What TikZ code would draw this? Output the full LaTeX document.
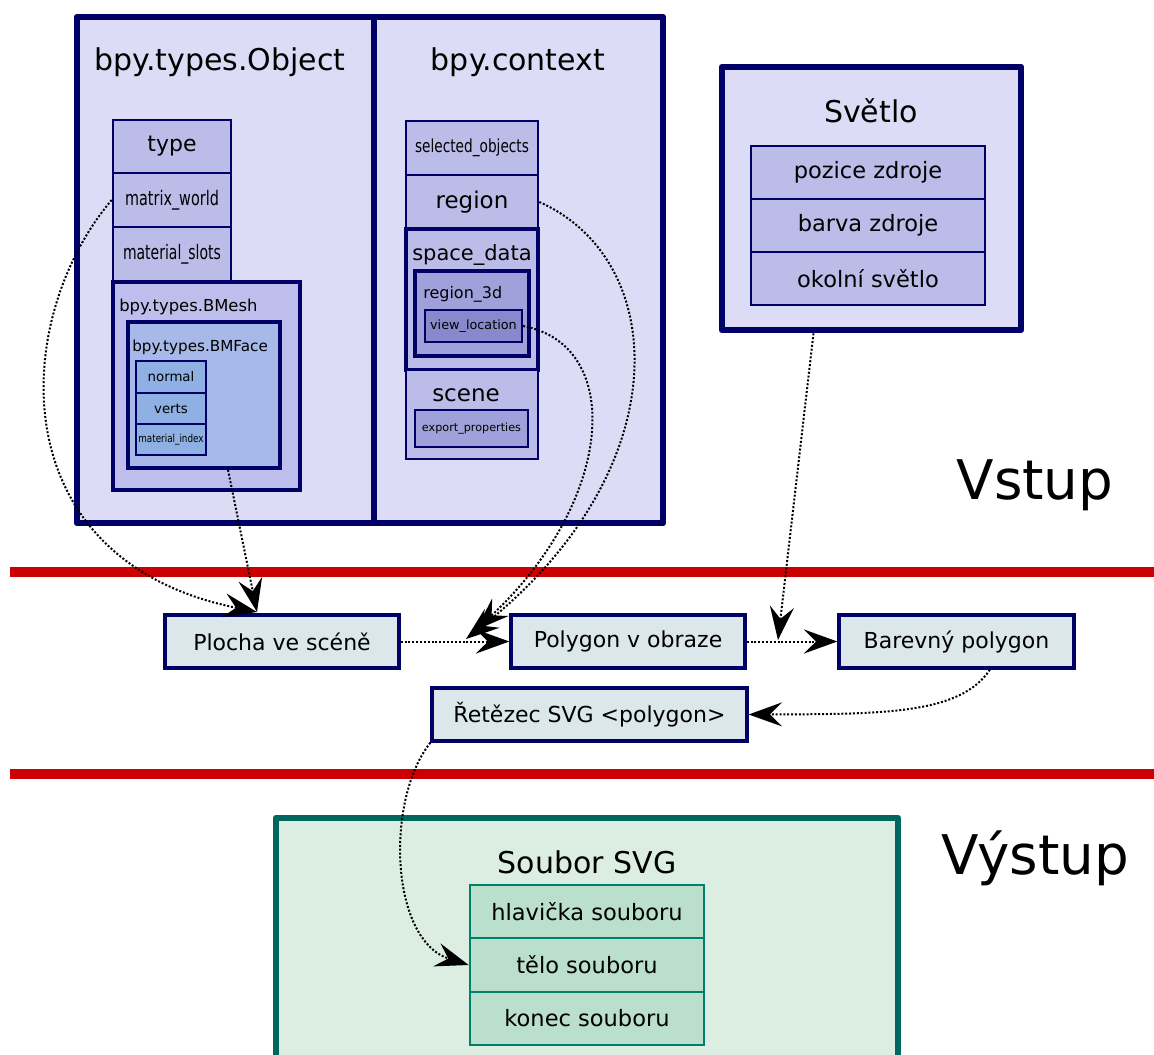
\documentclass[tikz,border=0pt]{standalone}
\usepackage{fontspec}
\setmainfont{DejaVu Sans}
\usepackage{graphicx}
\usetikzlibrary{arrows.meta,fit}

\definecolor{navy}{RGB}{0,0,102}
\definecolor{lav}{RGB}{220,220,247}
\definecolor{fieldc}{RGB}{188,188,233}
\definecolor{meshc}{RGB}{190,190,237}
\definecolor{facec}{RGB}{166,185,232}
\definecolor{attrc}{RGB}{142,176,226}
\definecolor{r3dc}{RGB}{160,160,218}
\definecolor{viewc}{RGB}{136,136,204}
\definecolor{flowc}{RGB}{219,231,235}
\definecolor{redline}{RGB}{204,0,0}
\definecolor{tealb}{RGB}{0,102,96}
\definecolor{filec}{RGB}{220,237,226}
\definecolor{rowc}{RGB}{187,223,205}
\definecolor{rowb}{RGB}{0,128,106}

\newcommand\fsz[1]{\fontsize{#1}{#1}\selectfont}
\newcommand\narrow[2]{\scalebox{#1}[1]{#2}}

\begin{document}
\begin{tikzpicture}[x=0.75pt,y=-0.75pt,
  area/.style={draw=navy, fill=lav, line width=5pt, inner sep=0pt, line join=round},
  field/.style={draw=navy, fill=fieldc, line width=2pt, inner sep=0pt},
  group/.style={draw=navy, line width=2.8pt, inner sep=0pt},
  attr/.style={draw=navy, fill=attrc, line width=1.5pt, inner sep=0pt},
  flow/.style={draw=navy, fill=flowc, line width=2.5pt, inner sep=0pt},
  row/.style={draw=rowb, fill=rowc, line width=2pt, inner sep=0pt},
  lbl/.style={inner sep=0pt},
  big/.style={lbl, font=\fsz{16.9pt}},
  title/.style={lbl, font=\fsz{22.5pt}},
  band/.style={draw=redline, line width=7.5pt},
  link/.style={line width=1.5pt, dash pattern=on 1.5pt off 1.4pt,
    -{Stealth[length=25pt,width=18pt,inset=9pt]}},
]
\useasboundingbox (0,0) rectangle (1154,1054);
\clip (0,0) rectangle (1154,1054);

% --- input areas ---
\node[area, fit={(77,17) (374,523)}] (obj) {};
\node[area, fit={(374,17) (663,523)}] (ctx) {};
\node[title] at (220,62) {bpy.types.Object};
\node[title] at (518,62) {bpy.context};

% bpy.types.Object fields
\node[field, fit={(113,120) (231,173)}] (type) {};
\node[lbl, font=\fsz{16.5pt}] at (type) {type};
\node[field, fit={(113,173) (231,227)}] (mw) {};
\node[lbl, font=\fsz{15pt}] at (mw) {\narrow{0.72}{matrix\_world}};
\node[field, fit={(113,227) (231,281)}] (ms) {};
\node[lbl, font=\fsz{15pt}] at (ms) {\narrow{0.70}{material\_slots}};
\node[group, fill=meshc, fit={(113,282) (300,490)}] (bmesh) {};
\node[lbl, anchor=west, font=\fsz{12.3pt}] at (119,307) {bpy.types.BMesh};
\node[group, fill=facec, fit={(128,322) (280,468)}] (bmface) {};
\node[lbl, anchor=west, font=\fsz{11.4pt}] at (132,347) {bpy.types.BMFace};
\node[attr, fit={(136,361) (206,393)}] (normal) {};
\node[lbl, font=\fsz{10pt}] at (normal) {normal};
\node[attr, fit={(136,393) (206,424)}] (verts) {};
\node[lbl, font=\fsz{10pt}] at (verts) {verts};
\node[attr, fit={(136,424) (206,455)}] (mi) {};
\node[lbl, font=\fsz{8.25pt}] at (mi) {\narrow{0.8}{material\_index}};

% bpy.context fields
\node[field, fit={(406,121) (538,175)}] (sel) {};
\node[lbl, font=\fsz{13.5pt}] at (sel) {\narrow{0.76}{selected\_objects}};
\node[field, fit={(406,175) (538,229)}] (region) {};
\node[lbl, font=\fsz{17.25pt}] at (region) {region};
\node[group, fill=fieldc, fit={(406,229) (538,370)}] (space) {};
\node[lbl, font=\fsz{15.75pt}] at (472,255) {space\_data};
\node[group, fill=r3dc, fit={(415,271) (529,356)}] (r3d) {};
\node[lbl, anchor=west, font=\fsz{12pt}] at (423,294) {region\_3d};
\node[attr, fill=viewc, fit={(425,310) (522,342)}] (view) {};
\node[lbl, font=\fsz{9.6pt}] at (view) {view\_location};
\node[field, fit={(406,370) (538,459)}] (scene) {};
\node[lbl, font=\fsz{17.25pt}] at (466,395) {scene};
\node[attr, fill=r3dc, fit={(415,410) (528,447)}] (export) {};
\node[lbl, font=\fsz{8.4pt}] at (export) {export\_properties};

% light source
\node[area, fit={(722,67) (1021,330)}] (light) {};
\node[title] at (871,111) {Světlo};
\node[field, fit={(751,146) (985,199)}] (pos) {};
\node[big] at (pos) {pozice zdroje};
\node[field, fit={(751,199) (985,252)}] (col) {};
\node[big] at (col) {barva zdroje};
\node[field, fit={(751,252) (985,305)}] (amb) {};
\node[big] at (amb) {okolní světlo};

% section separators and labels
\draw[band] (10,572) -- (1154,572);
\draw[band] (10,774) -- (1154,774);
\node[lbl, font=\fsz{41pt}] at (1035,485) {Vstup};
\node[lbl, font=\fsz{41pt}] at (1035,858) {Výstup};

% processing chain
\node[flow, fit={(165,615) (399,668)}] (face) {};
\node[lbl, font=\fsz{16.5pt}] at (face) {Plocha ve scéně};
\node[flow, fit={(511,615) (745,668)}] (poly) {};
\node[lbl, font=\fsz{16.5pt}] at (poly) {Polygon v obraze};
\node[flow, fit={(839,615) (1074,668)}] (cpoly) {};
\node[lbl, font=\fsz{16.5pt}] at (cpoly) {Barevný polygon};
\node[flow, fit={(432,688) (747,741)}] (svgstr) {};
\node[lbl, font=\fsz{16.5pt}] at (svgstr) {Řetězec SVG <polygon>};

% output file
\node[draw=tealb, fill=filec, line width=5pt, inner sep=0pt, line join=round, fit={(276,818) (898,1075)}] (file) {};
\node[title] at (587,862) {Soubor SVG};
\node[row, fit={(470,885) (704,938)}] (head) {};
\node[big] at (head) {hlavička souboru};
\node[row, fit={(470,938) (704,992)}] (body) {};
\node[big] at (body) {tělo souboru};
\node[row, fit={(470,992) (704,1045)}] (tail) {};
\node[big] at (tail) {konec souboru};

% arrow end points
\coordinate (faceIn) at (257,612);
\coordinate (polyInA) at (466,639);
\coordinate (polyInB) at (476,630);
\coordinate (colIn) at (778,640);

% data flow
\draw[link] (mw.west) .. controls (10,320) and (0,560) .. (faceIn);
\draw[link] ([xshift=18pt]bmface.south) -- (faceIn);
\draw[link] (region.east) .. controls (670,260) and (680,470) .. (polyInA);
\draw[link] (view.east) .. controls (625,345) and (615,500) .. (polyInB);
\draw[link] (face.east) -- (poly.west);
\draw[link] (poly.east) -- (cpoly.west);
\draw[link] ([xshift=-43.5pt]light.south) -- (colIn);
\draw[link] ([xshift=25pt]cpoly.south) .. controls (960,715) and (880,714) .. (svgstr.east);
\draw[link] (svgstr.south west) .. controls (385,800) and (390,940) .. (body.west);
\end{tikzpicture}
\end{document}
